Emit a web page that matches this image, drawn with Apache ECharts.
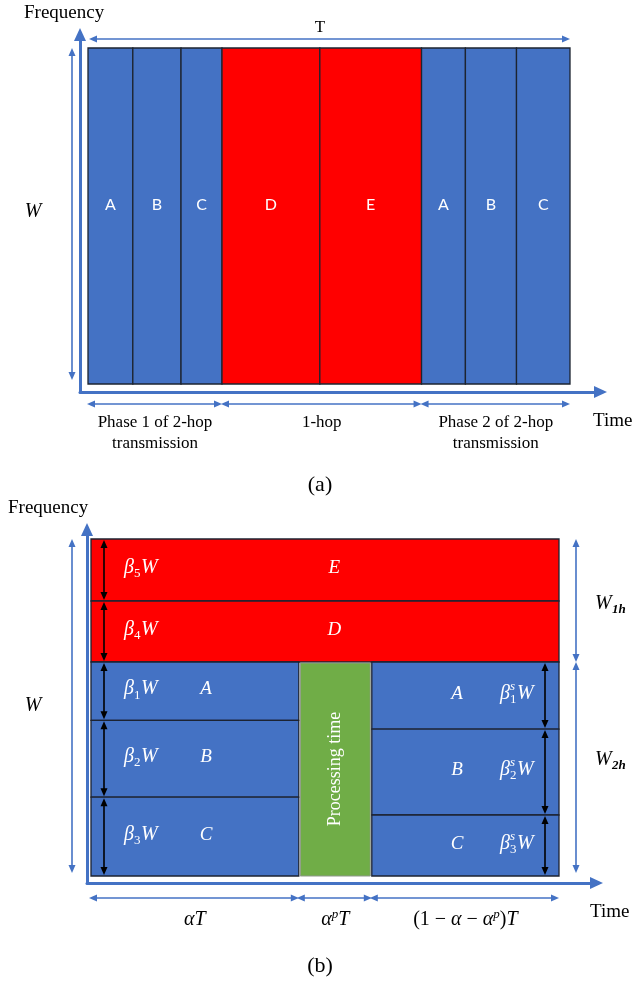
<!DOCTYPE html>
<html>
<head>
<meta charset="utf-8">
<script src="https://cdn.jsdelivr.net/npm/echarts@6/dist/echarts.min.js"></script>
<style>
  html, body { margin: 0; padding: 0; background: #ffffff; }
  #chart { width: 634px; height: 981px; }
</style>
</head>
<body>
<div id="chart"></div>
<script>
// ---------- (a) orthogonal time slots over the whole band W ----------
// slot durations, in percent of the frame length T
const slotNamesA = ['A', 'B', 'C', 'D', 'E', 'A', 'B', 'C'];
const slotDurationsA = [9.3, 10.0, 8.5, 20.3, 21.1, 9.1, 10.6, 11.1];
const slotKindsA = ['2hop', '2hop', '2hop', '1hop', '1hop', '2hop', '2hop', '2hop'];
const phaseLabelsA = ['Phase 1 of 2-hop\ntransmission', '1-hop', 'Phase 2 of 2-hop\ntransmission'];
const phaseSlotCountsA = [3, 2, 3];

// ---------- (b) frequency sharing inside the frame ----------
// time fractions of T
const alpha = 0.444;      // phase 1 of 2-hop
const alphaP = 0.156;     // processing time at the relay
const timeLabelsB = ['αT', 'α^pT', '(1 − α − α^p)T'];
// bandwidth shares of W
const oneHopNames = ['D', 'E'];
const oneHopBeta = [0.181, 0.184];          // β4, β5
const oneHopBetaIdx = ['4', '5'];
const twoHopNames = ['A', 'B', 'C'];
const phase1Beta = [0.173, 0.228, 0.234];   // β1, β2, β3
const phase2Beta = [0.199, 0.255, 0.181];   // β1s, β2s, β3s
const betaIdx = ['1', '2', '3'];
const shareLabelsB = ['W', 'W|1h', 'W|2h'];

const BLUE = '#4472C4', RED = '#FF0000', GREEN = '#70AD47', LINE = '#4472C4';
const SERIF = '"Liberation Serif", "Times New Roman", serif';
const SANS = 'Lato, "Open Sans", sans-serif';

// ---- derived tables ----
let acc = 0;
const slotDataA = slotDurationsA.map(d => { const s = acc; acc += d; return [s, acc]; });
let slotCursor = 0;
const phaseDataA = phaseSlotCountsA.map(n => {
  const s = slotDataA[slotCursor][0], e = slotDataA[slotCursor + n - 1][1];
  slotCursor += n;
  return [s, e];
});

const w2h = phase1Beta.reduce((a, b) => a + b, 0);
const bandsB = [];
let edge = 1;
for (let i = oneHopNames.length - 1; i >= 0; i--) {
  bandsB.push({ v: [0, 1, edge - oneHopBeta[i], edge], side: 'full', color: RED, letter: oneHopNames[i], sub: oneHopBetaIdx[i] });
  edge -= oneHopBeta[i];
}
edge = w2h;
phase1Beta.forEach((b, i) => {
  bandsB.push({ v: [0, alpha, edge - b, edge], side: 'left', color: BLUE, letter: twoHopNames[i], sub: betaIdx[i] });
  edge -= b;
});
edge = w2h;
phase2Beta.forEach((b, i) => {
  bandsB.push({ v: [alpha + alphaP, 1, edge - b, edge], side: 'right', color: BLUE, letter: twoHopNames[i], sub: betaIdx[i], sup: 's' });
  edge -= b;
});
bandsB.push({ v: [alpha, alpha + alphaP, 0, w2h], side: 'proc', color: GREEN, letter: 'Processing time' });

const timeDataB = [[0, alpha], [alpha, alpha + alphaP], [alpha + alphaP, 1]];
const shareDataB = [[0, 1], [w2h, 1], [0, w2h]];

// ---- drawing helpers ----
function hArrow(x1, x2, y, color, lw, hl, hw) {
  return [
    { type: 'line', shape: { x1: x1 + hl * 0.7, y1: y, x2: x2 - hl * 0.7, y2: y }, style: { stroke: color, lineWidth: lw } },
    { type: 'polygon', shape: { points: [[x1, y], [x1 + hl, y - hw / 2], [x1 + hl, y + hw / 2]] }, style: { fill: color } },
    { type: 'polygon', shape: { points: [[x2, y], [x2 - hl, y - hw / 2], [x2 - hl, y + hw / 2]] }, style: { fill: color } }
  ];
}
function vArrow(x, y1, y2, color, lw, hl, hw) {
  return [
    { type: 'line', shape: { x1: x, y1: y1 + hl * 0.7, x2: x, y2: y2 - hl * 0.7 }, style: { stroke: color, lineWidth: lw } },
    { type: 'polygon', shape: { points: [[x, y1], [x - hw / 2, y1 + hl], [x + hw / 2, y1 + hl]] }, style: { fill: color } },
    { type: 'polygon', shape: { points: [[x, y2], [x - hw / 2, y2 - hl], [x + hw / 2, y2 - hl]] }, style: { fill: color } }
  ];
}
function txt(text, x, y, opts) {
  return {
    type: 'text',
    style: Object.assign({ text: text, x: x, y: y, align: 'center', verticalAlign: 'middle', fill: '#000', fontSize: 17, fontFamily: SERIF }, opts || {})
  };
}
// β with index (and optional superscript) followed by W
function betaLabel(cx, cy, sub, sup) {
  const x0 = cx - 17;
  const base = { fill: '#fff', fontFamily: SERIF, fontStyle: 'italic', align: 'left' };
  const out = [
    txt('β', x0, cy, Object.assign({}, base, { fontSize: 20 })),
    txt(sub, x0 + 10, cy + 6, Object.assign({}, base, { fontSize: 13, fontStyle: 'normal' })),
    txt('W', x0 + 17, cy, Object.assign({}, base, { fontSize: 20 }))
  ];
  if (sup) out.push(txt(sup, x0 + 10, cy - 7, Object.assign({}, base, { fontSize: 13 })));
  return out;
}
// ^x marks a superscript; letters are set in italics
function mathRich(s) {
  let out = '';
  for (let i = 0; i < s.length; i++) {
    const c = s[i];
    if (c === '^') out += '{sup|' + s[++i] + '}';
    else if (/[A-Za-z\u03b1-\u03c9]/.test(c)) out += '{it|' + c + '}';
    else out += '{rm|' + c + '}';
  }
  return out;
}
const mathRichStyles = {
  it: { fontFamily: SERIF, fontStyle: 'italic', fontSize: 20, lineHeight: 24, fill: '#000' },
  rm: { fontFamily: SERIF, fontSize: 20, lineHeight: 24, fill: '#000' },
  sup: { fontFamily: SERIF, fontStyle: 'italic', fontSize: 13, lineHeight: 14, verticalAlign: 'top', fill: '#000' }
};

function frameAxis(gridIndex) {
  return {
    gridIndex: gridIndex, type: 'value', min: 0, max: 1,
    axisLine: { show: true, symbol: ['none', 'triangle'], symbolSize: [12, 13], lineStyle: { color: LINE, width: 3 } },
    axisTick: { show: false }, axisLabel: { show: false }, splitLine: { show: false }
  };
}
function hiddenAxis(gridIndex, max) {
  return { gridIndex: gridIndex, type: 'value', min: 0, max: max, show: false };
}

const chart = echarts.init(document.getElementById('chart'), null, { renderer: 'canvas' });

const option = {
  backgroundColor: '#ffffff',
  animation: false,
  grid: [
    { left: 88, top: 48, width: 482, height: 336 },
    { left: 80, top: 34.5, width: 520.5, height: 357.5 },
    { left: 91, top: 539, width: 468, height: 337 },
    { left: 87, top: 529.5, width: 509.5, height: 353.5 }
  ],
  xAxis: [hiddenAxis(0, 100), frameAxis(1), hiddenAxis(2, 1), frameAxis(3)],
  yAxis: [hiddenAxis(0, 1), frameAxis(1), hiddenAxis(2, 1), frameAxis(3)],
  graphic: [
    txt('Frequency', 24, 13, { align: 'left', fontSize: 19 }),
    txt('Time', 593, 421, { align: 'left', fontSize: 19 }),
    txt('(a)', 320, 485, { fontSize: 22 }),
    txt('Frequency', 8, 508, { align: 'left', fontSize: 19 }),
    txt('Time', 590, 912, { align: 'left', fontSize: 19 }),
    txt('(b)', 320, 966, { fontSize: 22 })
  ],
  series: [
    {
      // (a) time slots
      type: 'custom', name: 'slots', xAxisIndex: 0, yAxisIndex: 0, silent: true,
      data: slotDataA,
      renderItem: function (params, api) {
        const i = params.dataIndex;
        const tl = api.coord([api.value(0), 1]);
        const br = api.coord([api.value(1), 0]);
        const mid = api.coord([(api.value(0) + api.value(1)) / 2, 0.533]);
        return {
          type: 'group',
          children: [
            { type: 'rect', shape: { x: tl[0], y: tl[1], width: br[0] - tl[0], height: br[1] - tl[1] },
              style: { fill: slotKindsA[i] === '1hop' ? RED : BLUE, stroke: '#1d2430', lineWidth: 1.3 } },
            txt(slotNamesA[i], mid[0], mid[1], { fill: '#fff', fontSize: 16, fontFamily: SANS })
          ]
        };
      }
    },
    {
      // (a) transmission phases under the time axis
      type: 'custom', name: 'phases', xAxisIndex: 0, yAxisIndex: 0, silent: true,
      data: phaseDataA,
      renderItem: function (params, api) {
        const a = api.coord([api.value(0), 0]);
        const b = api.coord([api.value(1), 0]);
        const y = a[1] + 20;
        return {
          type: 'group',
          children: hArrow(a[0] - 1, b[0], y, LINE, 1.6, 8, 7).concat([
            txt(phaseLabelsA[params.dataIndex], (a[0] + b[0]) / 2, y + 8.5, { verticalAlign: 'top', lineHeight: 21, fontSize: 17 })
          ])
        };
      }
    },
    {
      // (a) frame length T and bandwidth W
      type: 'custom', name: 'extentA', xAxisIndex: 0, yAxisIndex: 0, silent: true,
      data: [[0, 100]],
      renderItem: function (params, api) {
        const tl = api.coord([api.value(0), 1]);
        const br = api.coord([api.value(1), 0]);
        return {
          type: 'group',
          children: hArrow(tl[0] + 1, br[0], tl[1] - 9, LINE, 1.6, 8, 7)
            .concat(vArrow(tl[0] - 16, tl[1], br[1] - 4, LINE, 1.6, 8, 7))
            .concat([
              txt('T', (tl[0] + br[0]) / 2 - 9, tl[1] - 20, { fontSize: 17 }),
              txt('W', tl[0] - 55, (tl[1] + br[1]) / 2 - 4, { fontSize: 20, fontStyle: 'italic' })
            ])
        };
      }
    },
    {
      // (b) frequency bands
      type: 'custom', name: 'bands', xAxisIndex: 2, yAxisIndex: 2, silent: true,
      data: bandsB.map(b => b.v),
      renderItem: function (params, api) {
        const b = bandsB[params.dataIndex];
        const tl = api.coord([api.value(0), api.value(3)]);
        const br = api.coord([api.value(1), api.value(2)]);
        const cy = (tl[1] + br[1]) / 2;
        if (b.side === 'proc') {
          return {
            type: 'group',
            children: [
              { type: 'rect', shape: { x: tl[0] + 1.5, y: tl[1] + 1, width: br[0] - tl[0] - 3, height: br[1] - tl[1] - 1 },
                style: { fill: GREEN, stroke: '#8f978c', lineWidth: 1 } },
              { type: 'text', x: (tl[0] + br[0]) / 2, y: cy, rotation: Math.PI / 2,
                style: { text: b.letter, x: 0, y: 0, align: 'center', verticalAlign: 'middle', fill: '#fff', fontSize: 18, fontFamily: SERIF } }
            ]
          };
        }
        const children = [
          { type: 'rect', shape: { x: tl[0], y: tl[1], width: br[0] - tl[0], height: br[1] - tl[1] },
            style: { fill: b.color, stroke: '#1c2332', lineWidth: 1.3 } }
        ];
        let arrowX, betaX, letterX;
        if (b.side === 'right') {
          arrowX = br[0] - 14; betaX = br[0] - 42; letterX = br[0] - 102;
        } else {
          arrowX = tl[0] + 13; betaX = tl[0] + 50;
          letterX = b.side === 'full' ? tl[0] + (br[0] - tl[0]) * 0.52 : tl[0] + 115;
        }
        return {
          type: 'group',
          children: children
            .concat(vArrow(arrowX, tl[1] + 1, br[1] - 1, '#000', 1.6, 8, 7))
            .concat(betaLabel(betaX, cy - 2, b.sub, b.sup))
            .concat([txt(b.letter, letterX, cy - 2, { fill: '#fff', fontSize: 19, fontStyle: 'italic' })])
        };
      }
    },
    {
      // (b) bandwidth totals
      type: 'custom', name: 'shares', xAxisIndex: 2, yAxisIndex: 2, silent: true,
      data: shareDataB,
      renderItem: function (params, api) {
        const i = params.dataIndex;
        const tl = api.coord([0, api.value(1)]);
        const br = api.coord([1, api.value(0)]);
        const parts = shareLabelsB[i].split('|');
        if (i === 0) {
          return {
            type: 'group',
            children: vArrow(tl[0] - 19, tl[1], br[1] - 3, LINE, 1.6, 8, 7).concat([
              txt(parts[0], tl[0] - 58, (tl[1] + br[1]) / 2 - 2, { fontSize: 20, fontStyle: 'italic' })
            ])
          };
        }
        const ly = (tl[1] + br[1]) / 2 + (i === 1 ? 3 : -9);
        return {
          type: 'group',
          children: vArrow(br[0] + 17, tl[1], br[1] - (i === 2 ? 3 : 0), LINE, 1.6, 8, 7).concat([
            txt(parts[0], br[0] + 36, ly, { align: 'left', fontSize: 20, fontStyle: 'italic' }),
            txt(parts[1], br[0] + 53, ly + 6, { align: 'left', fontSize: 13, fontStyle: 'italic', fontWeight: 'bold' })
          ])
        };
      }
    },
    {
      // (b) time shares under the time axis
      type: 'custom', name: 'timeShares', xAxisIndex: 2, yAxisIndex: 2, silent: true,
      data: timeDataB,
      renderItem: function (params, api) {
        const a = api.coord([api.value(0), 0]);
        const b = api.coord([api.value(1), 0]);
        const y = a[1] + 22;
        return {
          type: 'group',
          children: hArrow(a[0] - 2, b[0], y, LINE, 1.6, 8, 7).concat([
            { type: 'text', style: { text: mathRich(timeLabelsB[params.dataIndex]), rich: mathRichStyles,
              x: (a[0] + b[0]) / 2, y: y + 22, align: 'center', verticalAlign: 'middle' } }
          ])
        };
      }
    }
  ]
};

chart.setOption(option);
</script>
</body>
</html>
